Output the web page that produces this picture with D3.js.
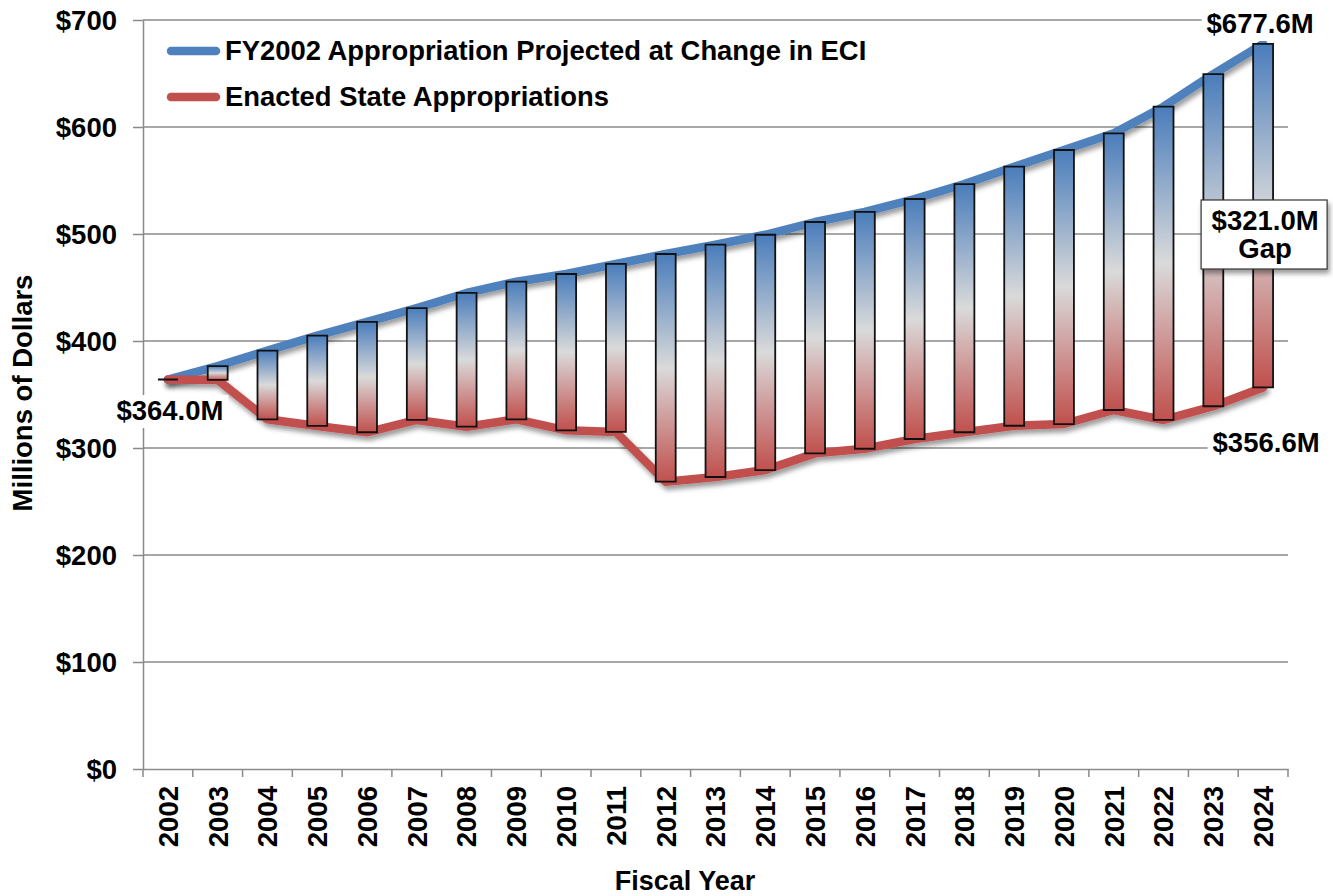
<!DOCTYPE html>
<html>
<head>
<meta charset="utf-8">
<script src="https://cdn.jsdelivr.net/npm/d3@7"></script>
<style>
  body { margin: 0; background: #fff; }
  text { font-family: "Liberation Sans", Arial, sans-serif; font-weight: bold; fill: #000; }
</style>
</head>
<body>
<script>
// chart data
var years = ["2002", "2003", "2004", "2005", "2006", "2007", "2008", "2009", "2010", "2011", "2012",
             "2013", "2014", "2015", "2016", "2017", "2018", "2019", "2020", "2021", "2022", "2023", "2024"];

// FY2002 appropriation projected at change in ECI
var projected = [364.0, 376.6, 391.0, 405.0, 417.8, 430.8, 444.9, 455.4, 462.6, 472.0, 481.3,
                 490.0, 499.3, 511.2, 520.6, 532.7, 546.7, 562.9, 578.5, 594.1, 619.0, 649.5, 677.6];

// enacted state appropriations
var enacted = [364.0, 363.6, 326.8, 320.6, 314.7, 326.2, 319.9, 326.8, 316.5, 315.0, 268.5,
               272.9, 279.4, 295.0, 299.3, 308.4, 314.7, 320.8, 322.4, 335.5, 326.2, 339.0, 356.6];

var yTicks = [0, 100, 200, 300, 400, 500, 600, 700];

var seriesNames = ["FY2002 Appropriation Projected at Change in ECI", "Enacted State Appropriations"];
var seriesColors = ["#4f81bd", "#c0504d"];

// set the dimensions and margins of the graph
var margin = {top: 20, right: 45, bottom: 127, left: 143},
    width = 1333 - margin.left - margin.right,
    height = 896 - margin.top - margin.bottom;

var x = d3.scaleBand().domain(years).range([0, width]);
var y = d3.scaleLinear().domain([0, 700]).range([height, 0]);
var barWidth = x.bandwidth() * 0.4;
var cx = function(d, i) { return x(years[i]) + x.bandwidth() / 2; };

var svg = d3.select("body").append("svg")
    .attr("width", 1333)
    .attr("height", 896);

var defs = svg.append("defs");

// bar gradient: blue top, grey middle, red bottom
var grad = defs.append("linearGradient")
    .attr("id", "barGrad")
    .attr("x1", 0).attr("y1", 0).attr("x2", 0).attr("y2", 1);
grad.append("stop").attr("offset", "0%").attr("stop-color", "#4a7dbb");
grad.append("stop").attr("offset", "50%").attr("stop-color", "#dadada");
grad.append("stop").attr("offset", "100%").attr("stop-color", "#c0504d");

var shadow = defs.append("filter")
    .attr("id", "shadow")
    .attr("x", "-10%").attr("y", "-10%").attr("width", "120%").attr("height", "130%");
shadow.append("feDropShadow")
    .attr("dx", 2).attr("dy", 4)
    .attr("stdDeviation", 2.5)
    .attr("flood-color", "#000")
    .attr("flood-opacity", 0.4);

var g = svg.append("g")
    .attr("transform", "translate(" + margin.left + "," + margin.top + ")");

// gridlines
g.selectAll(".grid")
    .data(yTicks.slice(1))
  .enter().append("line")
    .attr("class", "grid")
    .attr("x1", 0)
    .attr("x2", width)
    .attr("y1", function(d) { return y(d); })
    .attr("y2", function(d) { return y(d); })
    .attr("stroke", "#8a8a8a")
    .attr("stroke-width", 1.3);

// Y axis
var yAxis = g.append("g")
    .call(d3.axisLeft(y)
        .tickValues(yTicks)
        .tickSize(10)
        .tickSizeOuter(0)
        .tickPadding(16)
        .tickFormat(function(d) { return "$" + d; }));
yAxis.selectAll("path, line").attr("stroke", "#8a8a8a").attr("stroke-width", 1.5);
yAxis.selectAll("text").style("font-size", "27.5px").attr("dy", "0.36em");

// X axis
var xAxis = g.append("g")
    .attr("transform", "translate(0," + height + ")")
    .call(d3.axisBottom(x).tickSize(0).tickSizeOuter(0));
xAxis.select(".domain").attr("stroke", "#8a8a8a").attr("stroke-width", 1.5);
xAxis.selectAll("text")
    .style("font-size", "27.5px")
    .style("text-anchor", "end")
    .attr("transform", "rotate(-90)")
    .attr("x", -17)
    .attr("y", 0)
    .attr("dy", "0.36em");

// tick marks between categories
xAxis.selectAll(".sep")
    .data(years.concat(["end"]))
  .enter().append("line")
    .attr("class", "sep")
    .attr("x1", function(d) { return d === "end" ? width : x(d); })
    .attr("x2", function(d) { return d === "end" ? width : x(d); })
    .attr("y1", 0)
    .attr("y2", 8)
    .attr("stroke", "#8a8a8a")
    .attr("stroke-width", 1.5);

// lines
var valueline = d3.line()
    .x(function(d, i) { return cx(d, i); })
    .y(function(d) { return y(d); });

[projected, enacted].forEach(function(series, k) {
    g.append("path")
        .datum(series)
        .attr("d", valueline)
        .attr("fill", "none")
        .attr("stroke", seriesColors[k])
        .attr("stroke-width", 8.5)
        .attr("stroke-linejoin", "round")
        .attr("stroke-linecap", "round")
        .attr("filter", "url(#shadow)");
});

// floating gap bars
g.selectAll(".bar")
    .data(years)
  .enter().append("path")
    .attr("class", "bar")
    .attr("d", function(d, i) {
        var x0 = cx(d, i) - barWidth / 2, x1 = cx(d, i) + barWidth / 2;
        return "M" + x0 + "," + y(projected[i]) + "H" + x1 + "V" + y(enacted[i]) + "H" + x0 + "Z";
    })
    .attr("fill", "url(#barGrad)")
    .attr("stroke", "#111")
    .attr("stroke-width", 1.8);

// legend
var legend = g.selectAll(".legend")
    .data(seriesNames)
  .enter().append("g")
    .attr("class", "legend")
    .attr("transform", function(d, i) { return "translate(0," + i * 46 + ")"; });

legend.append("line")
    .attr("x1", 28).attr("x2", 73)
    .attr("y1", 31).attr("y2", 31)
    .attr("stroke", function(d, i) { return seriesColors[i]; })
    .attr("stroke-width", 8.5)
    .attr("stroke-linecap", "round");

legend.append("text")
    .attr("x", 82)
    .attr("y", 40)
    .style("font-size", "27.4px")
    .text(function(d) { return d; });

// value labels with white backgrounds
function label(txt, px, py) {
    var lg = g.append("g");
    var t = lg.append("text")
        .attr("x", px).attr("y", py)
        .attr("text-anchor", "middle")
        .style("font-size", "27.5px")
        .text(txt);
    var b = t.node().getBBox();
    lg.insert("rect", "text")
        .attr("x", b.x - 5).attr("y", b.y)
        .attr("width", b.width + 10).attr("height", b.height + 2)
        .attr("fill", "#fff");
}
var last = years.length - 1;
label("$" + projected[last].toFixed(1) + "M", cx(null, last) - 3, y(projected[last]) - 11);
label("$" + enacted[last].toFixed(1) + "M", cx(null, last) + 3, y(enacted[last]) + 65);
label("$" + enacted[0].toFixed(1) + "M", cx(null, 0) + 2, y(enacted[0]) + 40.5);

// gap box
var gap = projected[last] - enacted[last];
var gapG = g.append("g").attr("transform", "translate(" + (cx(null, last) + 2) + ",0)");
gapG.append("rect")
    .attr("x", -64).attr("y", 180)
    .attr("width", 126).attr("height", 69)
    .attr("fill", "#fff")
    .attr("stroke", "#333")
    .attr("stroke-width", 1.2)
    .attr("filter", "url(#shadow)");
gapG.append("text")
    .attr("x", 0).attr("y", 210)
    .attr("text-anchor", "middle")
    .style("font-size", "27.5px")
    .text("$" + gap.toFixed(1) + "M");
gapG.append("text")
    .attr("x", 0).attr("y", 238)
    .attr("text-anchor", "middle")
    .style("font-size", "27.5px")
    .text("Gap");

// axis titles
svg.append("text")
    .attr("transform", "translate(32,393) rotate(-90)")
    .style("text-anchor", "middle")
    .style("font-size", "27.5px")
    .text("Millions of Dollars");

svg.append("text")
    .attr("x", 685)
    .attr("y", 890)
    .style("text-anchor", "middle")
    .style("font-size", "27px")
    .text("Fiscal Year");
</script>
</body>
</html>
